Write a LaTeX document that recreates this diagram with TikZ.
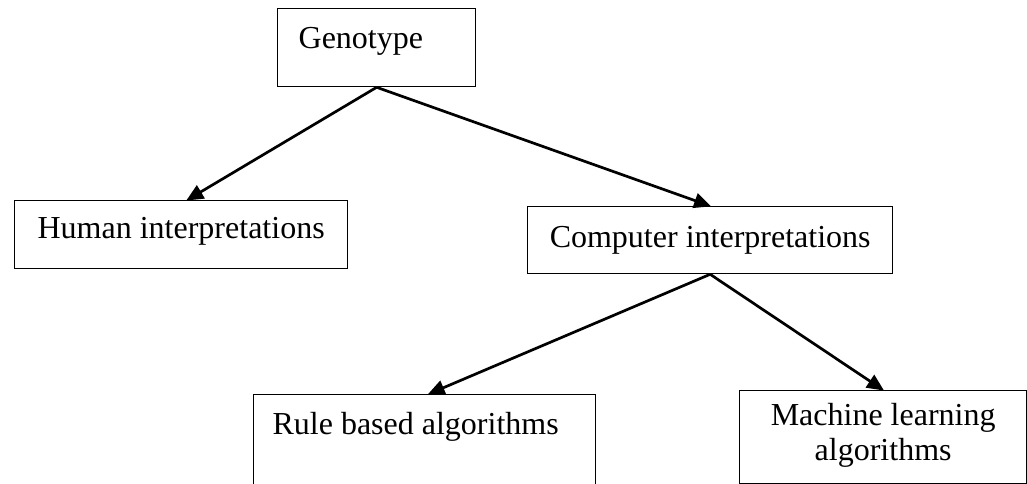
\documentclass[tikz,border=0pt]{standalone}
\usepackage{fontspec}
\setmainfont{Liberation Serif}
\usetikzlibrary{arrows.meta}
\begin{document}
\begin{tikzpicture}[x=1pt,y=-1pt,
  box/.style={draw=black,line width=1.3pt,rectangle,anchor=north west,inner sep=0pt,
    font=\fontsize{32}{35}\selectfont},
  conn/.style={line width=2.7pt,-{Triangle[length=17pt,width=15pt]},shorten >=-1pt}]
\useasboundingbox (0,0) rectangle (1027,484);
\node[box,text width=198pt,align=left,
  text height=40pt,text depth=38pt] (geno) at (277,8) {\hspace*{21pt}Genotype};
\node[box,minimum width=333pt,text height=38pt,text depth=30pt] (human) at (14,200) {Human interpretations};
\node[box,minimum width=365pt,text height=41pt,text depth=26pt] (comp) at (527,206) {Computer interpretations};
\node[box,minimum width=342pt,text height=40pt,text depth=70pt] (rule) at (253,394) {Rule based algorithms\hspace*{18pt}};
\node[box,minimum width=287pt,text height=35pt,text depth=58pt] (ml) at (739,390)
  {\begin{minipage}[t]{280pt}\centering Machine learning\\ algorithms\end{minipage}};
\draw[conn] (geno.south) -- ([xshift=6pt]human.north);
\draw[conn] (geno.south) -- (comp.north);
\draw[conn] (comp.south) -- ([xshift=4pt]rule.north);
\draw[conn] (comp.south) -- (ml.north);
\end{tikzpicture}
\end{document}
